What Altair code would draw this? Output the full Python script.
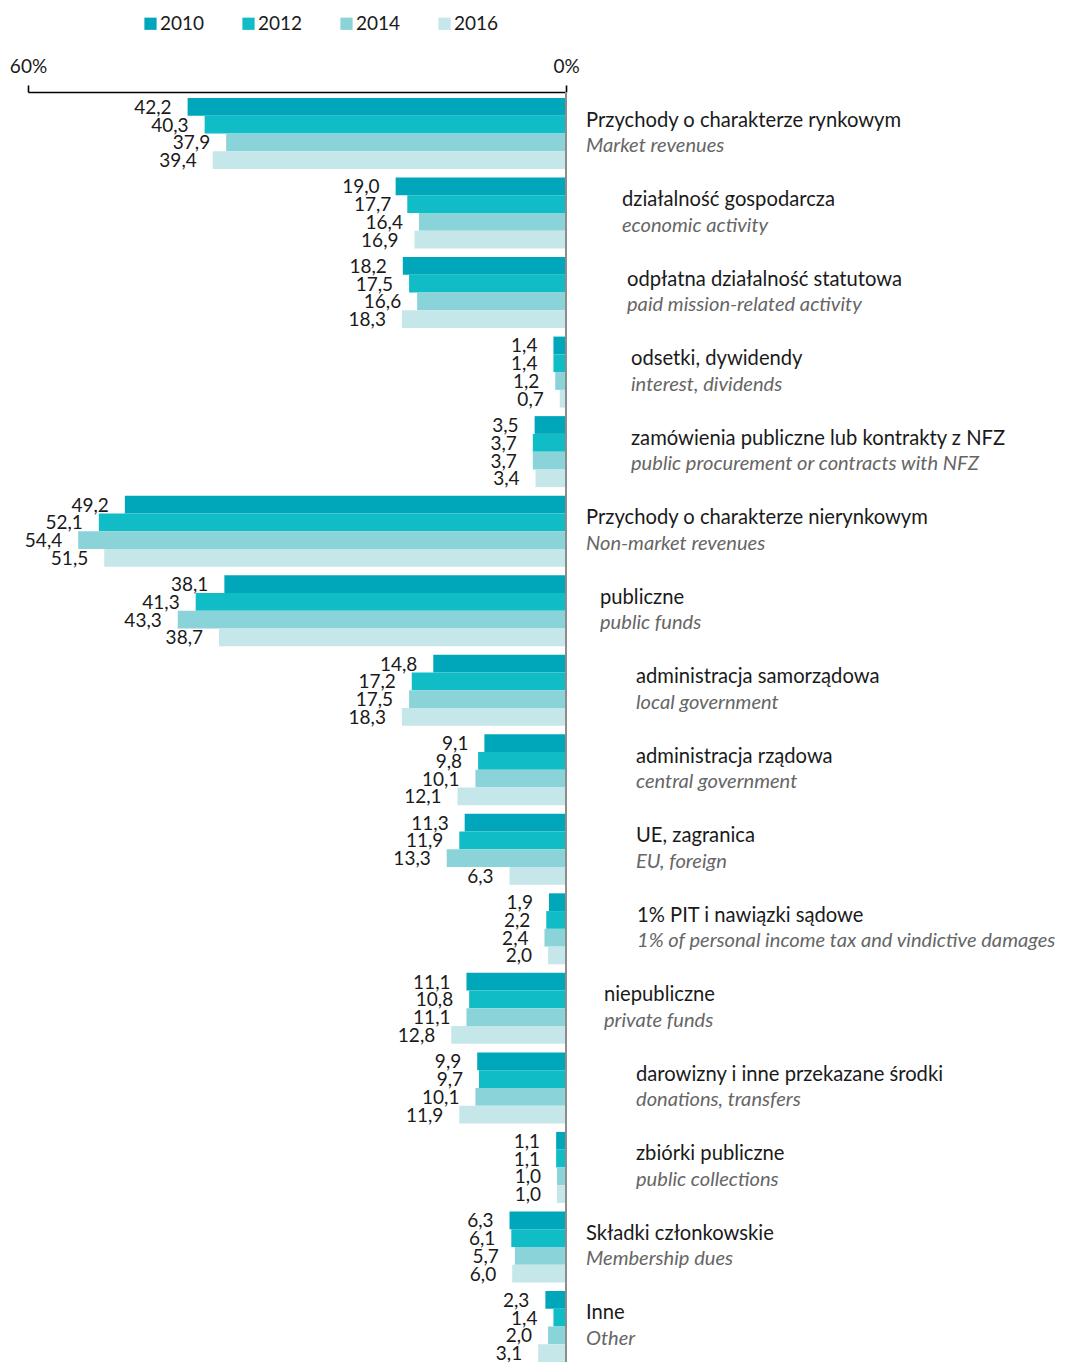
import altair as alt
import pandas as pd

years = ["2010", "2012", "2014", "2016"]

cat_pl = [
    "Przychody o charakterze rynkowym",
    "działalność gospodarcza",
    "odpłatna działalność statutowa",
    "odsetki, dywidendy",
    "zamówienia publiczne lub kontrakty z NFZ",
    "Przychody o charakterze nierynkowym",
    "publiczne",
    "administracja samorządowa",
    "administracja rządowa",
    "UE, zagranica",
    "1% PIT i nawiązki sądowe",
    "niepubliczne",
    "darowizny i inne przekazane środki",
    "zbiórki publiczne",
    "Składki członkowskie",
    "Inne",
]
cat_en = [
    "Market revenues",
    "economic activity",
    "paid mission-related activity",
    "interest, dividends",
    "public procurement or contracts with NFZ",
    "Non-market revenues",
    "public funds",
    "local government",
    "central government",
    "EU, foreign",
    "1% of personal income tax and vindictive damages",
    "private funds",
    "donations, transfers",
    "public collections",
    "Membership dues",
    "Other",
]
v2010 = [42.2, 19.0, 18.2, 1.4, 3.5, 49.2, 38.1, 14.8, 9.1, 11.3, 1.9, 11.1, 9.9, 1.1, 6.3, 2.3]
v2012 = [40.3, 17.7, 17.5, 1.4, 3.7, 52.1, 41.3, 17.2, 9.8, 11.9, 2.2, 10.8, 9.7, 1.1, 6.1, 1.4]
v2014 = [37.9, 16.4, 16.6, 1.2, 3.7, 54.4, 43.3, 17.5, 10.1, 13.3, 2.4, 11.1, 10.1, 1.0, 5.7, 2.0]
v2016 = [39.4, 16.9, 18.3, 0.7, 3.4, 51.5, 38.7, 18.3, 12.1, 6.3, 2.0, 12.8, 11.9, 1.0, 6.0, 3.1]

# style: left edge (page px) of each category's label block
label_left = [586, 622, 627, 631, 631, 586, 600, 636, 636, 636, 637, 604, 636, 636, 586, 586]

PLOT_LEFT = 28
W = 538
H = 1264
FONT = "Lato"
colors = ["#00A6B9", "#10BCC6", "#8AD3D9", "#C5E7EA"]

rows = []
for i, c in enumerate(cat_pl):
    for yr, vals in zip(years, [v2010, v2012, v2014, v2016]):
        rows.append({"cat": c, "year": yr, "value": vals[i],
                     "label": f"{vals[i]:.1f}".replace(".", ",")})
df = pd.DataFrame(rows)
lab = pd.DataFrame({"cat": cat_pl, "en": cat_en,
                    "ix": [p - PLOT_LEFT for p in label_left]})

yscale = alt.Scale(domain=cat_pl, paddingInner=0.107, paddingOuter=0)
xscale = alt.Scale(domain=[0, 60], reverse=True)
yoff = alt.YOffset("year:N", scale=alt.Scale(domain=years, paddingInner=0, paddingOuter=0))

base = alt.Chart(df)

bars = base.mark_bar().encode(
    x=alt.X("value:Q", scale=xscale, title=None,
            axis=alt.Axis(orient="top", values=[0, 60], labelExpr="datum.value + '%'",
                          labelFont=FONT, labelFontSize=19, labelColor="#1a1a1a",
                          domainColor="#000000", domainWidth=1.6, tickColor="#000000",
                          tickWidth=1.6, tickSize=7, labelPadding=9, offset=6, grid=False,
                          labelFlush=False, labelOverlap=False)),
    y=alt.Y("cat:N", scale=yscale, axis=None, sort=cat_pl),
    yOffset=yoff,
    color=alt.Color("year:N", scale=alt.Scale(domain=years, range=colors),
                    legend=alt.Legend(orient="none", legendX=113, legendY=-84,
                                      direction="horizontal", title=None,
                                      symbolType="square", symbolSize=150,
                                      symbolStrokeWidth=0, labelFont=FONT,
                                      labelFontSize=19, labelColor="#1a1a1a",
                                      columnPadding=34, labelOffset=0)),
)

values = base.mark_text(align="right", baseline="middle", dx=-16, dy=1,
                        font=FONT, fontSize=19, color="#1a1a1a").encode(
    x=alt.X("value:Q", scale=xscale),
    y=alt.Y("cat:N", scale=yscale, sort=cat_pl),
    yOffset=yoff,
    text="label:N",
)

zero = alt.Chart(pd.DataFrame({"x": [0]})).mark_rule(color="#8c8c8c", strokeWidth=2).encode(
    x=alt.X("x:Q", scale=xscale),
    y=alt.value(-6),
    y2=alt.value(H),
)

pl_text = alt.Chart(lab).mark_text(align="left", baseline="middle", dy=-13,
                                   font=FONT, fontSize=20.2, color="#1a1a1a").encode(
    x=alt.X("ix:Q", scale=None),
    y=alt.Y("cat:N", scale=yscale, sort=cat_pl),
    text="cat:N",
)
en_text = alt.Chart(lab).mark_text(align="left", baseline="middle", dy=12.5,
                                   font=FONT, fontSize=20.1, fontStyle="italic",
                                   color="#666666").encode(
    x=alt.X("ix:Q", scale=None),
    y=alt.Y("cat:N", scale=yscale, sort=cat_pl),
    text="en:N",
)

chart = alt.layer(bars, values, zero, pl_text, en_text).properties(
    width=W, height=H,
    autosize=alt.AutoSizeParams(type="none"),
    padding={"left": 20, "top": 90, "right": 495, "bottom": 0},
).configure_view(stroke=None)

chart.save("out.html", embed_options={"renderer": "svg", "actions": False})
